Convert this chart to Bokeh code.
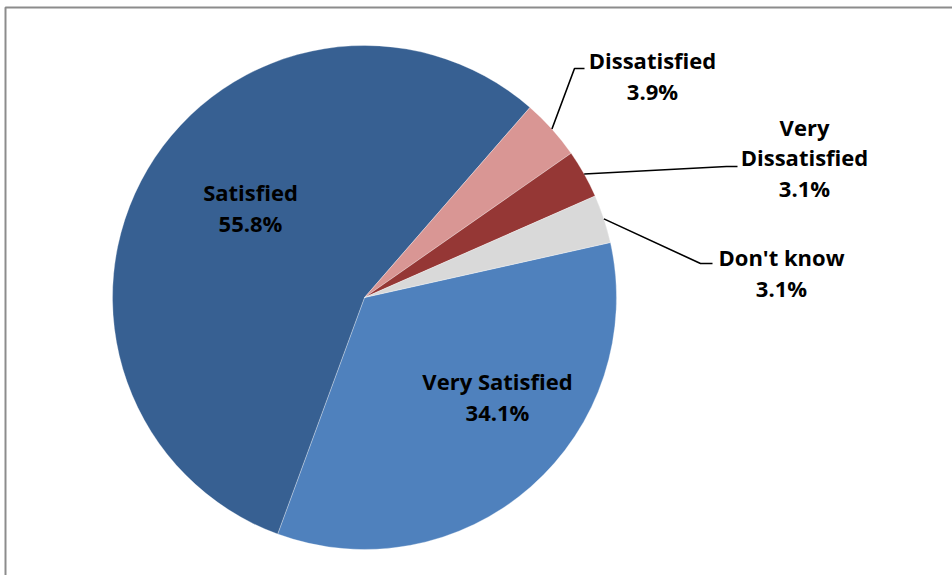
import math
from bokeh.plotting import figure
from bokeh.models import Range1d, ColumnDataSource
from bokeh.core.properties import value
from bokeh.embed import file_html
from bokeh.resources import INLINE

# ---- data ----
categories = ["Very Satisfied", "Satisfied", "Dissatisfied", "Very Dissatisfied", "Don't know"]
shares = [34.1, 55.8, 3.9, 3.1, 3.1]
colors = ["#4F81BD", "#376092", "#D99694", "#953735", "#D9D9D9"]
display_names = ["Very Satisfied", "Satisfied", "Dissatisfied", "Very\nDissatisfied", "Don't know"]

W, H = 952, 575
p = figure(width=W, height=H, output_backend="svg", toolbar_location=None,
           x_range=Range1d(0, W), y_range=Range1d(0, H),
           x_axis_type=None, y_axis_type=None, min_border=0)
p.grid.visible = False
p.outline_line_color = None
p.background_fill_color = "white"

# frame of the chart area
p.line([5, 5, W + 5], [-5, H - 7, H - 7], line_color="#8c8c8c", line_width=2)

cx, cy, r = 364, H - 297, 252
start0 = math.radians(12.6)  # start of first slice (clockwise)

total = sum(shares)
starts, ends, mids = [], [], []
a = start0
for s in shares:
    sweep = 2 * math.pi * s / total
    starts.append(a)
    ends.append(a - sweep)
    mids.append(a - sweep / 2)
    a -= sweep

src = ColumnDataSource(dict(start=starts, end=ends, color=colors, cat=categories))
p.wedge(x=cx, y=cy, radius=r, start_angle="start", end_angle="end", direction="clock",
        fill_color="color", line_color="white", line_width=0.5, line_alpha=0.6, source=src)

# label layout (pixel positions of label block centres, y from top)
label_pos = {
    "Very Satisfied": (497, 396),
    "Satisfied": (250, 207),
    "Dissatisfied": (652, 75),
    "Very Dissatisfied": (804, 157),
    "Don't know": (781, 272),
}
# leader line bends (pixel), for outside labels
leaders = {
    "Dissatisfied": [(574, 68), (584, 68)],
    "Very Dissatisfied": [(726, 166), (737, 166)],
    "Don't know": [(700, 263), (712, 263)],
}

for i, cat in enumerate(categories):
    if cat in leaders:
        m = mids[i]
        x0 = cx + r * math.cos(m)
        y0 = cy + r * math.sin(m)
        xs = [x0] + [pt[0] for pt in leaders[cat]]
        ys = [y0] + [H - pt[1] for pt in leaders[cat]]
        p.line(xs, ys, line_color="black", line_width=1.6)

texts = [f"{display_names[i]}\n{shares[i]:.1f}%" for i in range(len(categories))]
tx = [label_pos[c][0] for c in categories]
ty = [H - label_pos[c][1] for c in categories]
p.text(x=tx, y=ty, text=texts, text_align="center", text_baseline="middle",
       text_font=value("Open Sans"), text_font_style="bold", text_font_size="22px",
       text_color="black", text_line_height=1.03)

open("out.html", "w").write(file_html(p, INLINE))
